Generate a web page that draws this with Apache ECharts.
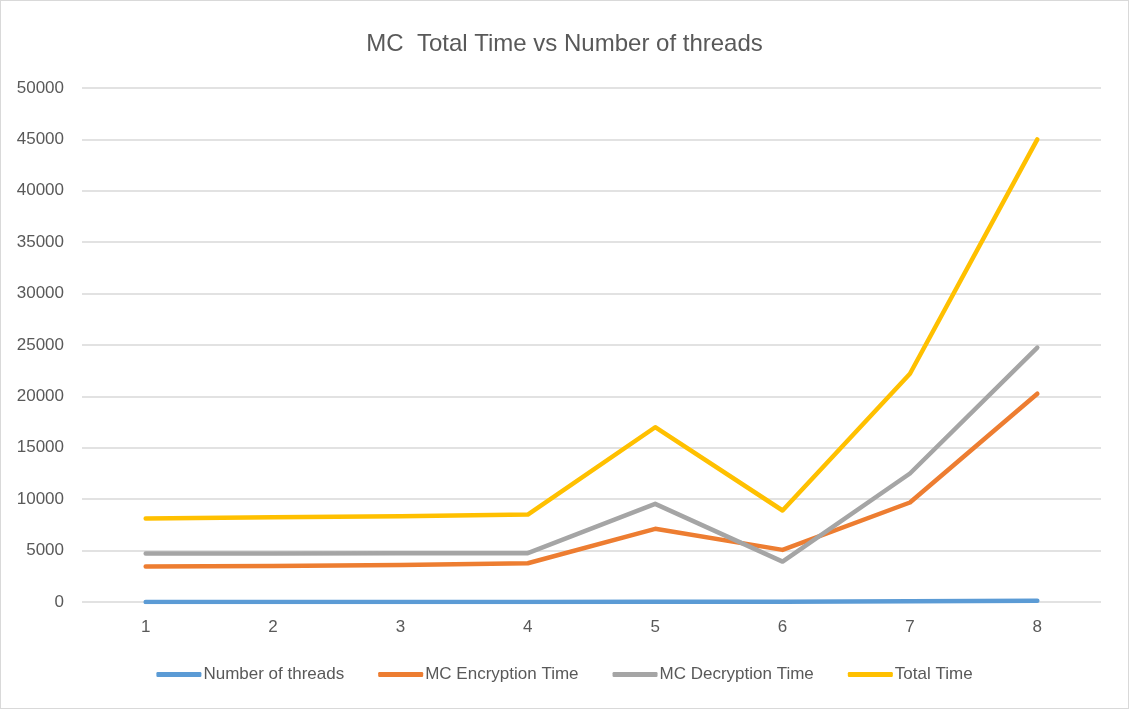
<!DOCTYPE html>
<html>
<head>
<meta charset="utf-8">
<script src="https://cdn.jsdelivr.net/npm/echarts@6/dist/echarts.min.js"></script>
<style>
    html, body { margin: 0; padding: 0; background: #fff; }
    #chart { width: 1127px; height: 707px; border: 1px solid #d9d9d9; }
</style>
</head>
<body>
<div id="chart"></div>
<script>
    // data
    var arrX = ['1', '2', '3', '4', '5', '6', '7', '8'];
    var arrThreads = [1, 2, 4, 8, 16, 32, 64, 128];
    var arrEncryption = [3450, 3500, 3600, 3770, 7120, 5070, 9680, 20260];
    var arrDecryption = [4720, 4730, 4740, 4750, 9550, 3930, 12500, 24740];
    var arrTotal = [8130, 8250, 8350, 8500, 17000, 8900, 22200, 45000];

    var strFont = '"Liberation Sans", sans-serif';

    var makeLine = function (strName, arrData, strColor) {
        return {
            name: strName,
            type: 'line',
            data: arrData,
            symbol: 'none',
            lineStyle: { width: 4.5, color: strColor, cap: 'round', join: 'round' },
            itemStyle: { color: strColor }
        };
    };

    var chart = echarts.init(document.getElementById('chart'));
    chart.setOption({
        animation: false,
        title: {
            text: 'MC  Total Time vs Number of threads',
            left: 'center',
            top: 26,
            textStyle: { fontFamily: strFont, fontSize: 24, fontWeight: 'normal', color: '#595959' }
        },
        legend: {
            bottom: 20,
            left: 'center',
            itemWidth: 45,
            itemHeight: 5,
            itemGap: 34,
            icon: 'roundRect',
            textStyle: { fontFamily: strFont, fontSize: 17, color: '#595959', padding: [0, 0, 0, -3] },
            data: ['Number of threads', 'MC Encryption Time', 'MC Decryption Time', 'Total Time']
        },
        grid: { left: 81, right: 27, top: 87, bottom: 106 },
        xAxis: {
            type: 'category',
            data: arrX,
            boundaryGap: true,
            axisLine: { show: false },
            axisTick: { show: false },
            axisLabel: { fontFamily: strFont, fontSize: 17, color: '#595959', margin: 17 }
        },
        yAxis: {
            type: 'value',
            min: 0,
            max: 50000,
            interval: 5000,
            axisLine: { show: false },
            axisTick: { show: false },
            splitLine: { lineStyle: { color: '#d9d9d9', width: 1.5 } },
            axisLabel: {
                fontFamily: strFont, fontSize: 17, color: '#595959', margin: 18,
                formatter: function (v) { return String(v); }
            }
        },
        series: [
            makeLine('Number of threads', arrThreads, '#5B9BD5'),
            makeLine('MC Encryption Time', arrEncryption, '#ED7D31'),
            makeLine('MC Decryption Time', arrDecryption, '#A5A5A5'),
            makeLine('Total Time', arrTotal, '#FFC000')
        ]
    });
</script>
</body>
</html>
